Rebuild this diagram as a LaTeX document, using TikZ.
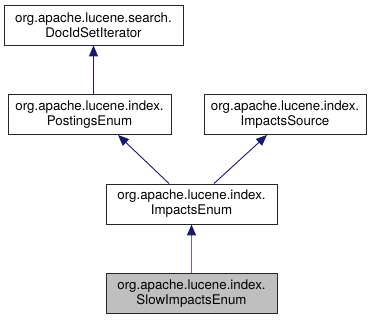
\documentclass[tikz,border=0pt]{standalone}
\usepackage{fontspec}
\setmainfont{TeX Gyre Heros}
\usepackage{tikz}
\usetikzlibrary{arrows.meta,calc,positioning}
\definecolor{edgeblue}{RGB}{25,25,112}
\definecolor{edgelight}{RGB}{100,100,170}
\definecolor{curgray}{RGB}{191,191,191}

\tikzset{
  cls/.style={draw=black!85, line width=0.9pt, fill=white, align=center,
    inner sep=0pt, minimum height=40pt,
    font=\fontsize{13.3pt}{15pt}\selectfont},
  inherit/.style={draw=edgeblue, line width=0.9pt,
    -{Triangle[length=11pt,width=9pt,fill=edgeblue]}}
}

\begin{document}
\begin{tikzpicture}[x=1pt,y=-1pt]
    \useasboundingbox (0,0) rectangle (380,320);

    % Class boxes
    \node[cls, minimum width=179pt] (iter) at (93.5,25) {org.apache.lucene.search.\\DocIdSetIterator};
    \node[cls, minimum width=163pt] (postings) at (89.5,114.5) {org.apache.lucene.index.\\PostingsEnum};
    \node[cls, minimum width=162pt] (source) at (285,114.5) {org.apache.lucene.index.\\ImpactsSource};
    \node[cls, minimum width=171pt] (impacts) at (191.5,204) {org.apache.lucene.index.\\ImpactsEnum};
    \node[cls, minimum width=171pt, fill=curgray] (slow) at (191.5,293.5) {org.apache.lucene.index.\\SlowImpactsEnum};

    % Inheritance edges
    \draw[inherit] (postings.north -| iter.south) -- (iter.south);
    \draw[inherit] ($(impacts.north)+(-22.5,0)$) -- ($(postings.south)+(28.5,0)$);
    \draw[inherit] ($(impacts.north)+(22.5,0)$) -- ($(source.south)+(-18,0)$);
    \draw[inherit, draw=edgelight, line width=1.3pt,
      -{Triangle[length=11pt,width=9pt,fill=edgeblue,color=edgeblue]}] (slow) -- (impacts);
\end{tikzpicture}
\end{document}
